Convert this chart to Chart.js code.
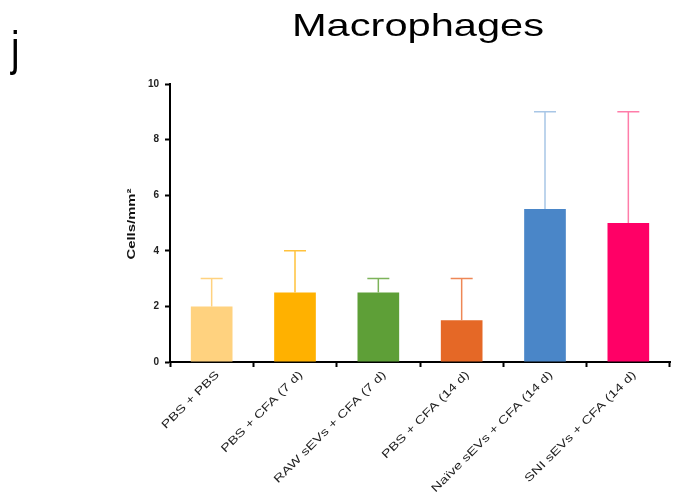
<!DOCTYPE html>
<html lang="en">
<head>
  <meta charset="UTF-8" />
  <title>Macrophages</title>
  <script src="https://cdn.jsdelivr.net/npm/chart.js"></script>
  <style>
    html, body { margin: 0; padding: 0; background: #fff; }
    #wrap { width: 679px; height: 498px; position: relative; }
  </style>
</head>
<body>

  <div id="wrap"><canvas id="graphique"></canvas></div>

  <script>
    // Données
    const groups = ['PBS + PBS', 'PBS + CFA (7 d)', 'RAW sEVs + CFA (7 d)', 'PBS + CFA (14 d)', 'Naïve sEVs + CFA (14 d)', 'SNI sEVs + CFA (14 d)'];
    const means = [2, 2.5, 2.5, 1.5, 5.5, 5];
    const errTop = [3, 4, 3, 3, 9, 9];
    const yTicks = [0, 2, 4, 6, 8, 10];

    const barColors = ['#FFD27F', '#FFB100', '#5E9F37', '#E56826', '#4A86C8', '#FF0066'];
    const errColors = ['#FFD27F', '#FFC23D', '#7DB35A', '#EE8756', '#A8C6E6', '#FF7DA9'];

    const FONT = '"Liberation Sans", Arial, sans-serif';
    const STRETCH = 1.35; // le texte de la figure est étiré dans le sens de lecture

    // barres d'erreur (haut seulement)
    const errorBars = {
      id: 'errorBars',
      afterDatasetsDraw(chart) {
        const ctx = chart.ctx;
        const x = chart.scales.x, y = chart.scales.y;
        ctx.save();
        ctx.lineWidth = 1.5;
        means.forEach((m, i) => {
          const px = x.getPixelForValue(i);
          const yb = y.getPixelForValue(m);
          const yt = y.getPixelForValue(errTop[i]);
          ctx.strokeStyle = errColors[i];
          ctx.beginPath();
          ctx.moveTo(px, yb);
          ctx.lineTo(px, yt);
          ctx.moveTo(px - 11, yt);
          ctx.lineTo(px + 11, yt);
          ctx.stroke();
        });
        ctx.restore();
      }
    };

    // titre, lettre du panneau, titre de l'axe y et étiquettes x (texte étiré)
    const labels = {
      id: 'labels',
      afterDraw(chart) {
        const ctx = chart.ctx;
        const area = chart.chartArea;
        const x = chart.scales.x;

        ctx.save();
        ctx.fillStyle = '#000';
        ctx.textAlign = 'center';
        ctx.font = '32px ' + FONT;
        ctx.translate((area.left + area.right) / 2 - 2, 36);
        ctx.scale(1.3, 1);
        ctx.fillText('Macrophages', 0, 0);
        ctx.restore();

        ctx.save();
        ctx.fillStyle = '#000';
        ctx.textAlign = 'left';
        ctx.font = '48px ' + FONT;
        ctx.translate(11, 65);
        ctx.scale(0.8, 1);
        ctx.fillText('j', 0, 0);
        ctx.restore();

        ctx.save();
        ctx.fillStyle = '#111';
        ctx.textAlign = 'center';
        ctx.textBaseline = 'middle';
        ctx.font = 'bold 11px ' + FONT;
        ctx.translate(area.left - 38, (area.top + area.bottom) / 2 + 1);
        ctx.rotate(-Math.PI / 2);
        ctx.scale(STRETCH, 1);
        ctx.fillText('Cells/mm²', 0, 0);
        ctx.restore();

        ctx.font = '11px ' + FONT;
        ctx.fillStyle = '#222';
        groups.forEach((g, i) => {
          ctx.save();
          ctx.textAlign = 'right';
          ctx.textBaseline = 'middle';
          ctx.translate(x.getPixelForValue(i) + 6, area.bottom + 11);
          ctx.rotate(-Math.PI / 4);
          ctx.scale(STRETCH, 1);
          ctx.fillText(g, 0, 0);
          ctx.restore();
        });
      }
    };

    const ctx = document.getElementById('graphique').getContext('2d');

    const chart = new Chart(ctx, {
      type: 'bar',
      data: {
        labels: groups,
        datasets: [{
          data: means,
          backgroundColor: barColors,
          borderWidth: 0,
          barPercentage: 0.5,
          categoryPercentage: 1
        }]
      },
      options: {
        responsive: true,
        maintainAspectRatio: false,
        animation: false,
        layout: { padding: { top: 84, left: 125, right: 9, bottom: 0 } },
        plugins: {
          legend: { display: false },
          title: { display: false },
          tooltip: { enabled: false }
        },
        scales: {
          x: {
            afterFit(scale) { scale.height = 136; },
            grid: { display: true, drawOnChartArea: false, tickLength: 5, tickColor: '#000', tickWidth: 2 },
            border: { display: true, color: '#000', width: 2 },
            ticks: { display: false, autoSkip: false }
          },
          y: {
            min: 0,
            max: 10,
            afterFit(scale) { scale.width = 45; },
            afterBuildTicks(scale) { scale.ticks = yTicks.map(v => ({ value: v })); },
            grid: { display: true, drawOnChartArea: false, tickLength: 5, tickColor: '#000', tickWidth: 2 },
            border: { display: true, color: '#000', width: 2 },
            ticks: {
              color: '#222',
              font: { family: FONT, size: 10, weight: 'bold' },
              padding: 6
            }
          }
        }
      },
      plugins: [errorBars, labels]
    });
  </script>

</body>
</html>
